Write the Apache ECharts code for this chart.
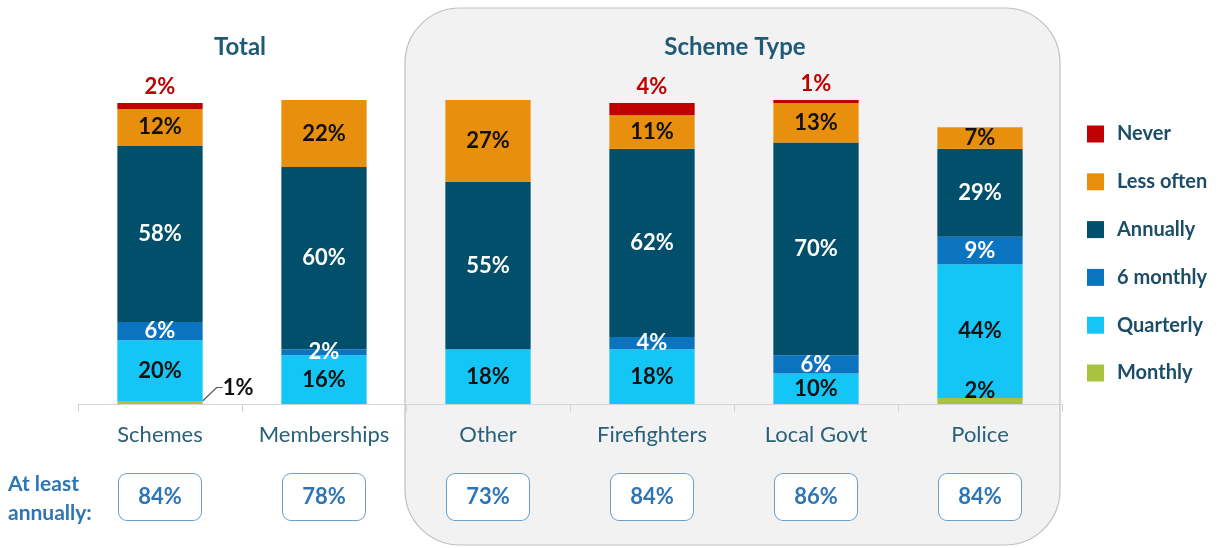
<!DOCTYPE html>
<html>
<head>
<meta charset="utf-8">
<script src="https://cdn.jsdelivr.net/npm/echarts@6/dist/echarts.min.js"></script>
<style>
  html, body { margin: 0; padding: 0; background: #ffffff; }
  #chart { width: 1222px; height: 548px; }
</style>
</head>
<body>
<div id="chart"></div>
<script>
// Frequency of scheme reviews, share of respondents (%)
const categories = ['Schemes', 'Memberships', 'Other', 'Firefighters', 'Local Govt', 'Police'];
const monthly    = [1, 0, 0, 0, 0, 2];
const quarterly  = [20, 16, 18, 18, 10, 44];
const sixMonthly = [6, 2, 0, 4, 6, 9];
const annually   = [58, 60, 55, 62, 70, 29];
const lessOften  = [12, 22, 27, 11, 13, 7];
const never      = [2, 0, 0, 4, 1, 0];
const atLeastAnnually = ['84%', '78%', '73%', '84%', '86%', '84%'];

const FONT = 'Lato, "Open Sans", "Noto Sans", sans-serif';
const pct = p => (p.value ? p.value + '%' : '');

function labelStyle(color, extra) {
  return Object.assign({
    show: true, position: 'inside', formatter: pct,
    color: color, fontFamily: FONT, fontWeight: 'bold', fontSize: 22
  }, extra || {});
}

function barSeries(name, data, color, label, more) {
  return Object.assign({
    name: name, type: 'bar', stack: 'freq', data: data,
    barWidth: '52%', itemStyle: { color: color }, label: label,
    emphasis: { disabled: true }
  }, more || {});
}

const chart = echarts.init(document.getElementById('chart'), null, { renderer: 'canvas' });

chart.setOption({
  animation: false,
  backgroundColor: '#ffffff',
  graphic: [
    {
      type: 'rect', z: -10, silent: true,
      shape: { x: 405, y: 8, width: 655, height: 537, r: 55 },
      style: { fill: '#f2f2f2', stroke: '#c0c0c0', lineWidth: 1.2 }
    },
    {
      type: 'text', silent: true,
      style: { x: 240, y: 47, text: 'Total', textAlign: 'center', textVerticalAlign: 'middle',
               font: 'bold 24px ' + FONT, fill: '#1f5a77' }
    },
    {
      type: 'text', silent: true,
      style: { x: 735, y: 47, text: 'Scheme Type', textAlign: 'center', textVerticalAlign: 'middle',
               font: 'bold 24px ' + FONT, fill: '#1f5a77' }
    },
    {
      type: 'text', silent: true,
      style: { x: 8, y: 470, text: 'At least\nannually:', lineHeight: 29,
               font: 'bold 21px ' + FONT, fill: '#2e75b6' }
    }
  ],
  legend: {
    orient: 'vertical', left: 1082, top: 119,
    data: ['Never', 'Less often', 'Annually', '6 monthly', 'Quarterly', 'Monthly'],
    icon: 'rect', itemWidth: 17, itemHeight: 17, itemGap: 27.8,
    selectedMode: false,
    textStyle: { fontFamily: FONT, fontWeight: 'bold', fontSize: 20, color: '#1b4d68', padding: [0, 0, 0, 8] }
  },
  grid: { left: 78, right: 160, top: 100, bottom: 144 },
  xAxis: {
    type: 'category', data: categories,
    axisLine: { lineStyle: { color: '#d4d4d4', width: 1 } },
    axisTick: { show: true, length: 8, lineStyle: { color: '#d4d4d4' } },
    axisLabel: {
      interval: 0, margin: 16,
      formatter: (v, i) => '{n|' + v + '}\n{g| }\n{b|' + atLeastAnnually[i] + '}',
      rich: {
        n: { fontFamily: FONT, fontSize: 22, color: '#2b6079', lineHeight: 30 },
        g: { fontSize: 8, lineHeight: 24 },
        b: { fontFamily: FONT, fontSize: 22, fontWeight: 'bold', color: '#2e75b6',
             width: 82, height: 46, lineHeight: 46, align: 'center',
             borderColor: '#6a9fcc', borderWidth: 1, borderRadius: 8, backgroundColor: '#ffffff' }
      }
    }
  },
  yAxis: { type: 'value', min: 0, max: 100, show: false, splitLine: { show: false } },
  series: [
    barSeries('Monthly', monthly.map((v, i) => i === 0
        ? { value: v, label: { position: 'right', color: '#111111' }, labelLine: { show: true, length2: 6, lineStyle: { color: '#555555', width: 1.2 } } }
        : v),
      '#a9c23f',
      labelStyle('#111111', { position: 'insideBottom', distance: 2 }),
      { labelLayout: p => (p.dataIndex === 0 ? { dx: 18, dy: -15 } : {}) }),
    barSeries('Quarterly', quarterly, '#14c6f6', labelStyle('#111111')),
    barSeries('6 monthly', sixMonthly, '#0b74c0', labelStyle('#ffffff')),
    barSeries('Annually', annually, '#024f6b', labelStyle('#ffffff')),
    barSeries('Less often', lessOften, '#e88f0d', labelStyle('#111111')),
    barSeries('Never', never, '#c00000', labelStyle('#c00000', { position: 'top' }))
  ]
});
</script>
</body>
</html>
